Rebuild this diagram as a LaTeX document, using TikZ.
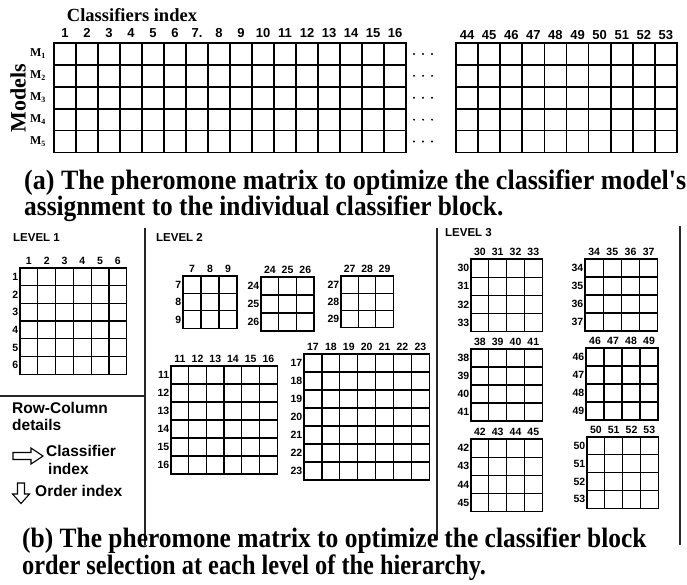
\documentclass[tikz,border=0pt]{standalone}
\usepackage{fontspec}
\setmainfont{Liberation Serif}
\setsansfont{Liberation Sans}
\tikzset{
  agrid/.style={line width=1.7pt, black},
  lgrid/.style={line width=1.25pt, black},
  sep/.style={line width=1.4pt, black!85},
  anum/.style={font=\sffamily\bfseries\fontsize{13}{15}\selectfont, inner sep=0pt},
  lnum/.style={font=\sffamily\bfseries\fontsize{10.5}{12}\selectfont, inner sep=0pt},
  mlab/.style={font=\rmfamily\bfseries\fontsize{12}{14}\selectfont, inner sep=0pt},
  lvl/.style={font=\sffamily\bfseries\fontsize{11.5}{13}\selectfont, inner sep=0pt, anchor=west},
  side/.style={font=\sffamily\bfseries\fontsize{15.5}{17}\selectfont, inner sep=0pt, anchor=west},
  captxt/.style={font=\rmfamily\bfseries\fontsize{28}{30}\selectfont, inner sep=0pt, anchor=base west},
  hollow/.style={draw, line width=1.1pt, fill=white, line join=miter}
}
% #1 left, #2 top, #3 ncols, #4 nrows, #5 cell w, #6 cell h, #7 first label, #8 name prefix
\newcommand{\mgrid}[8]{%
  \pgfmathsetmacro{\gw}{#3*#5}\pgfmathsetmacro{\gh}{#4*#6}%
  \draw[lgrid] (#1,#2) rectangle ++(\gw,\gh);
  \foreach \i in {1,...,#3} {\draw[lgrid] ({#1+\i*#5},#2) -- ++(0,\gh);}
  \foreach \j in {1,...,#4} {\draw[lgrid] (#1,{#2+\j*#6}) -- ++(\gw,0);}
  \foreach \i in {1,...,#3} {\pgfmathtruncatemacro{\lab}{#7+\i-1}%
    \node[lnum] (#8c\i) at ({#1+(\i-0.5)*#5},{#2-7}) {\lab};}
  \foreach \j in {1,...,#4} {\pgfmathtruncatemacro{\lab}{#7+\j-1}%
    \node[lnum, anchor=east] (#8r\j) at ({#1-1.5},{#2+(\j-0.5)*#6}) {\lab};}
}
\begin{document}
\begin{tikzpicture}[x=1pt, y=-1pt]
\fill[white] (0,0) rectangle (687,584);
\useasboundingbox (0,0) rectangle (687,584);

% ---------- part (a) ----------
\node[font=\rmfamily\bfseries\fontsize{18.5}{21}\selectfont, inner sep=0pt] (ci) at (132,15) {Classifiers index};
\node[font=\rmfamily\bfseries\fontsize{22}{24}\selectfont, inner sep=0pt, rotate=90] (models) at (18,98) {Models};

% grid 1
\draw[agrid] (54,43) rectangle (406,152.5);
\foreach \i in {1,...,15} {\draw[agrid] ({54+\i*22},43) -- ++(0,109.5);}
\foreach \j in {1,...,4} {\draw[agrid] (54,{43+\j*21.9}) -- (406,{43+\j*21.9});}
\foreach \i/\t in {1/1,2/2,3/3,4/4,5/5,6/6,7/7.,8/8,9/9,10/10,11/11,12/12,13/13,14/14,15/15,16/16}
  {\node[anum] (ac\i) at ({54+(\i-0.5)*22},33) {\t};}
\foreach \j in {1,...,5}
  {\node[mlab] (m\j) at (38,{43+(\j-0.5)*21.9}) {M\textsubscript{\j}};}
% dots
\foreach \j in {1,...,5} {\foreach \dx in {414,423,432}
  {\fill (\dx,{43+(\j-0.5)*21.9}) circle (1.1pt);}}
% grid 2
\draw[agrid] (456,43) rectangle (677,152.5);
\foreach \i in {1,...,9} {\draw[agrid] ({456+\i*22.1},43) -- ++(0,109.5);}
\foreach \j in {1,...,4} {\draw[agrid] (456,{43+\j*21.9}) -- (677,{43+\j*21.9});}
\foreach \i in {1,...,10} {\pgfmathtruncatemacro{\lab}{43+\i}%
  \node[anum] (bc\i) at ({456+(\i-0.5)*22.1},35) {\lab};}

\node[captxt] (ca1) at (24,189) {\scalebox{0.93}[1]{(a) The pheromone matrix to optimize the classifier model\textquotesingle s}};
\node[captxt] (ca2) at (24,215) {\scalebox{0.906}[1]{assignment to the individual classifier block.}};

% ---------- part (b) ----------
\draw[sep] (145,228) -- (145,545);
\draw[sep] (437,228) -- (437,540);
\draw[sep] (680,226) -- (680,545);
\draw[sep] (0,396) -- (145,396);

\node[lvl] (lv1) at (13,238) {LEVEL 1};
\node[lvl] (lv2) at (156,237) {LEVEL 2};
\node[lvl] (lv3) at (445,233) {LEVEL 3};

\mgrid{20}{268}{6}{6}{17.8}{17.7}{1}{La}
\mgrid{183}{276}{3}{3}{18}{17.4}{7}{Lb}
\mgrid{261}{277}{3}{3}{17.7}{18}{24}{Lc}
\mgrid{341}{276}{3}{3}{17.4}{17.2}{27}{Ld}
\mgrid{171}{366}{6}{6}{17.7}{18}{11}{Le}
\mgrid{304}{354}{7}{7}{17.9}{18}{17}{Lf}
\mgrid{471}{259}{4}{4}{17.8}{18.2}{30}{Lg}
\mgrid{585}{259}{4}{4}{18.2}{18}{34}{Lh}
\mgrid{471}{349}{4}{4}{17.8}{18}{38}{Li}
\mgrid{586}{348}{4}{4}{18}{18}{46}{Lj}
\mgrid{471}{439}{4}{4}{17.8}{18.2}{42}{Lk}
\mgrid{587}{437}{4}{4}{17.8}{17.8}{50}{Ll}

\node[side] (rc) at (12,408) {Row-Column};
\node[side] (det) at (12,425) {details};
\node[side] (cls) at (46,451) {Classifier};
\node[side] (idx) at (48,469) {index};
\node[side] (ord) at (35,491) {Order index};
\draw[hollow] (13,452.5) -- (31,452.5) -- (31,448) -- (43,456) -- (31,464) -- (31,459.5) -- (13,459.5) -- cycle;
\draw[hollow] (17.5,483) -- (24.5,483) -- (24.5,494) -- (29.5,494) -- (21,503.5) -- (12.5,494) -- (17.5,494) -- cycle;

\node[captxt] (cb1) at (22,547) {\scalebox{0.909}[1]{(b) The pheromone matrix to optimize the classifier block}};
\node[captxt] (cb2) at (22,574) {\scalebox{0.87}[1]{order selection at each level of the hierarchy.}};
\end{tikzpicture}
\end{document}
